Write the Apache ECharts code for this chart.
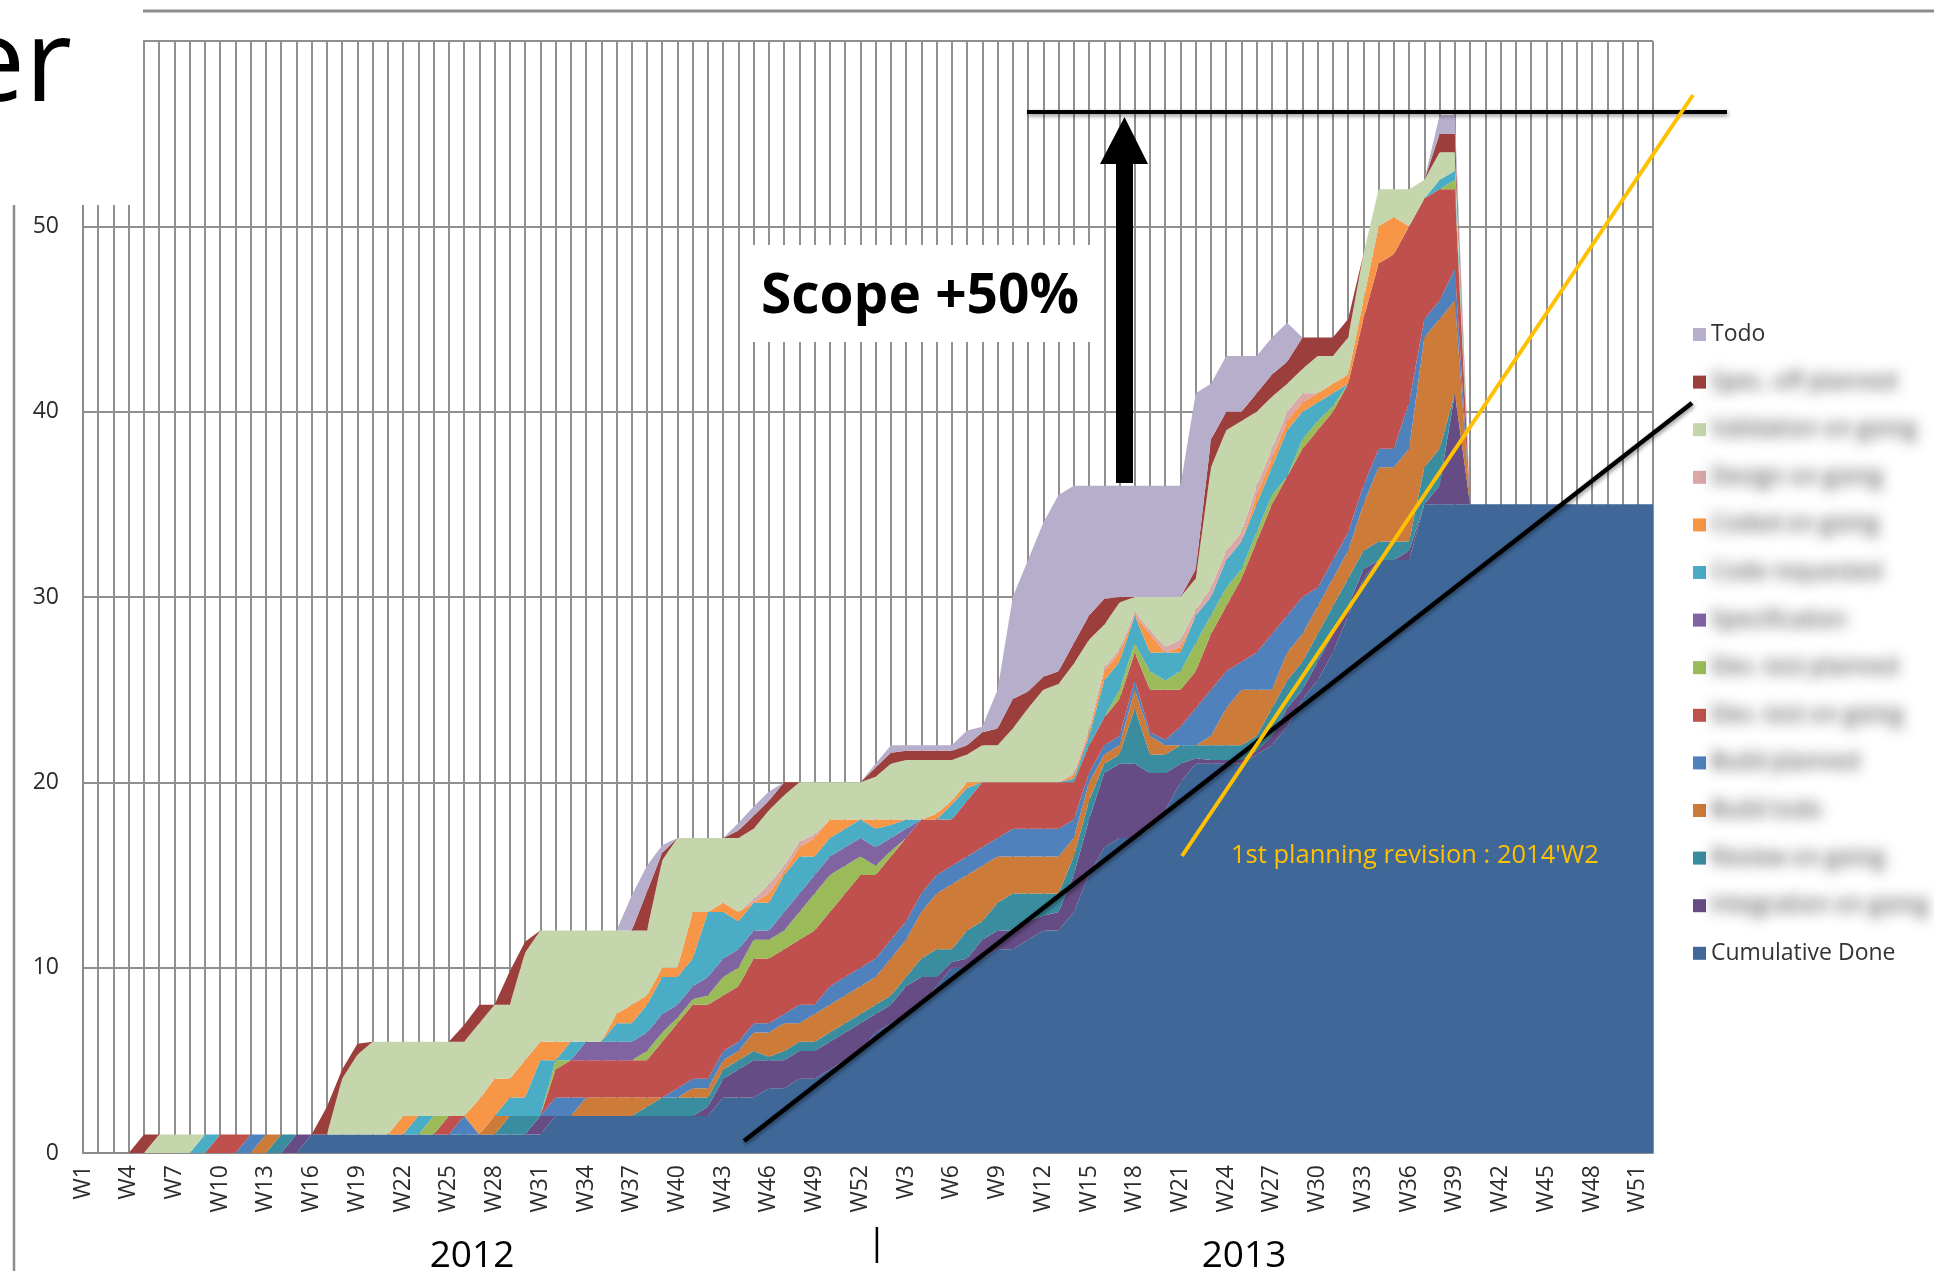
<!DOCTYPE html>
<html>
<head>
<meta charset="utf-8">
<title>Cumulative flow</title>
<script src="https://cdn.jsdelivr.net/npm/echarts@6.0.0/dist/echarts.min.js"></script>
<style>
  html, body { margin: 0; padding: 0; background: #ffffff; }
  #chart { width: 1934px; height: 1271px; }
</style>
</head>
<body>
<div id="chart"></div>
<script>
// x categories: 2012 W1..W52 then 2013 W1..W52 (year kept in the key, stripped in the label)
var years = ['2012', '2013'];
var weeks = [];
years.forEach(function (y) {
    for (var w = 1; w <= 52; w++) weeks.push(y + ' W' + w);
});

var yTicks = [0, 10, 20, 30, 40, 50];

// stacked layers, bottom -> top (one per week)
var done = [0,0,0,0,0,0,0,0,0,0, 0,0,0,0,0,1,1,1,1,1, 1,1,1,1,1,1,1,1,1,1,
    1,2,2,2,2,2,2,2,2,2, 2,2,3,3,3,3.5,3.5,4,4,4.5, 5,5.5,6.5,7,7.5,8,9,10,10,10.5,
    11,11,11.5,12,12,13,15,16.5,17,17, 17.5,18.5,20,21,21,21,21,21.5,22,23,
    24.5,25.5,27,29,31,32,32,32,35,35, 35,35,35,35,35,35,35,35,35,35, 35,35,35,35];
var integration = [0,0,0,0,0,0,0,0,0,0, 0,0,0,0,1,0,0,0,0,0, 0,0,0,0,0,0,0,0,0,0,
    1,0,0,0,0,0,0,0,0,0, 0,0.5,1,1.5,2,1.5,1.5,1.5,1.5,1.5, 1.5,1.5,1,1,1.5,1.5,0.5,0.3,0.5,1,
    1,1,1,0.8,1,2,3,4,4,4, 3,2,1,0.3,0.2,0.2,0.2,0.2,0.5,1,
    0.5,1,1,0.5,0.5,0,0,0.5,0,1, 6,0,0,0,0,0,0,0,0,0, 0,0,0,0];
var review = [0,0,0,0,0,0,0,0,0,0, 0,0,0,1,0,0,0,0,0,0, 0,0,0,0,0,0,0,0,1,1,
    0,0,0,0,0,0,0,0.5,1,1, 1,0.5,0.5,0.5,0.5,0.2,0.5,0.5,0.5,0.5, 0.5,0.5,0.5,0.5,0.5,1,1.5,0.7,1.5,1,
    1.5,2,1.5,1.2,1,1,1,0.5,0.5,3, 1,1,1,0.7,0.8,0.8,0.8,0.8,1.5,1.5,
    1.5,1.5,1.5,1.5,1,1,1,0.5,2,2, 0,0,0,0,0,0,0,0,0,0, 0,0,0,0];
var buildTodo = [0,0,0,0,0,0,0,0,0,0, 0,0,1,0,0,0,0,0,0,0, 0,0,0,0,0,0,0,1,0,0,
    0,0,0,1,1,1,1,0.5,0,0, 0.5,0.5,0.5,0.5,1,1.3,1.5,1,1.5,1.5, 1.5,1.5,1.5,2,2,2.5,3,3.5,3,3,
    2.5,2,2,2,2,1,1,0.5,0.5,1, 1,0.5,0,0,0.5,2,3,2.5,1,1.5,
    1.5,1.5,1.5,1.5,2.5,4,4,5,7,7, 5,0,0,0,0,0,0,0,0,0, 0,0,0,0];
var buildPlanned = [0,0,0,0,0,0,0,0,0,0, 0,1,0,0,0,0,0,0,0,0, 0,0,0,0,0,1,0,0,0,0,
    0,1,1,0,0,0,0,0,0,0.5, 0.5,0.5,0.5,0.5,0.5,0.5,0.5,1,0.5,1, 1,1,1,1,1,1,1,1,1,1,
    1,1.5,1.5,1.5,1.5,1,0.5,0.5,0.5,0.5, 0.2,0.3,1,2,2.5,2,1.5,2,3,2,
    2,1,1,1,1,1,1,2.5,1,1, 1.7,0,0,0,0,0,0,0,0,0, 0,0,0,0];
var devTest = [0,0,0,0,0,0,0,0,0,1, 1,0,0,0,0,0,0,0,0,0, 0,0,0,0,1,0,0,0,0,0,
    0,1.5,2,2,2,2,2,2,3,3.5, 4,4,3,3,3.5,3.5,3.5,3.5,4,4, 4.5,5,4.5,4.5,4.5,4,3,2.5,3,3.5,
    3,2.5,2.5,2.5,2.5,2,1.5,1.5,2,1.5, 2.3,2.7,2,2,3,3.5,4.5,6,7,7.5,
    8,8.5,8,8,9,10,10.5,9.5,6.5,6, 4.3,0,0,0,0,0,0,0,0,0, 0,0,0,0];
var devTestPlanned = [0,0,0,0,0,0,0,0,0,0, 0,0,0,0,0,0,0,0,0,0, 0,0,0,1,0,0,0,0,0,0,
    0,0.5,0,0,0,0,0,0.5,0.5,0.3, 0.3,0.5,1,1,1,1,1,1.5,2,2, 1.5,1,0.5,0.3,0,0,0,0,0,0,
    0,0,0,0,0,0,0,0,0.5,0.5, 1,0.5,1,1.5,1,1,0.5,0.5,0.5,0,
    0.5,0.5,0.3,0,0,0,0,0,0,0, 0.5,0,0,0,0,0,0,0,0,0, 0,0,0,0];
var specification = [0,0,0,0,0,0,0,0,0,0, 0,0,0,0,0,0,0,0,0,0, 0,0,0,0,0,0,0,0,0,0,
    0,0,0,1,1,1,1,1,1,0.7, 0.7,1,1,1,0.5,0.5,1,1,1,1, 1,1,1,0.7,0.5,0,0,0,0,0,
    0,0,0,0,0,0,0,0,0,0, 0,0,0,0,0,0,0,0,0,0,
    0,0,0,0,0,0,0,0,0,0, 0,0,0,0,0,0,0,0,0,0, 0,0,0,0];
var codeRequested = [0,0,0,0,0,0,0,0,1,0, 0,0,0,0,0,0,0,0,0,0, 0,0,1,0,0,0,0,0,1,1,
    3,0,1,0,0,1,1,1.5,2,1.5, 1.5,3.5,2.5,1.5,1.5,1.5,2,2,1,1, 1,1,1,0.7,0.5,0,0,0.8,0.7,0,
    0,0,0,0,0,0.2,0.5,2,1.5,1.5, 1,1.5,1,1.5,1,1.5,1.5,1.5,1.5,2.5,
    1.5,1,0.7,0,0,0,0,0,0,0.5, 0.5,0,0,0,0,0,0,0,0,0, 0,0,0,0];
var coded = [0,0,0,0,0,0,0,0,0,0, 0,0,0,0,0,0,0,0,0,0, 0,1,0,0,0,0,1.9,2,1,2,
    1,1,0,0,0,0.5,1,0.5,0.5,0.5, 2.5,0,0.5,0.5,0,0.5,0.2,0.5,1,1, 0.5,0,0.5,0.3,0,0,0.3,0.2,0.3,0,
    0,0,0,0,0,0.2,0.2,0.5,0.5,0, 1,0,0.3,0,0,0,0,0.5,0.5,0.5,
    0.5,0.5,0.5,0.5,1,2,2,0,0,0, 0,0,0,0,0,0,0,0,0,0, 0,0,0,0];
var design = [0,0,0,0,0,0,0,0,0,0, 0,0,0,0,0,0,0,0,0,0, 0,0,0,0,0,0,0,0,0,0,
    0,0,0,0,0,0,0,0,0,0, 0,0,0,0,0.2,0.5,0.3,0.3,0.2,0, 0,0,0,0,0,0,0,0,0,0,
    0,0,0,0,0,0.1,0.2,0.2,0.2,0.2, 0.2,0.3,0.4,0.3,0.5,0.5,0.5,0.5,0.5,0.5,
    0.5,0,0,0,0,0,0,0,0,0, 0,0,0,0,0,0,0,0,0,0, 0,0,0,0];
var validation = [0,0,0,0,0,1,1,1,0,0, 0,0,0,0,0,0,0,3,4.3,5, 5,4,4,4,4,4,4.1,4,4,5.8,
    6,6,6,6,6,4.5,4,3.5,5.8,7, 4,4,3.5,4,3.8,4,3.8,3.2,2.8,2, 2,2,2.3,3,3.2,3.2,2.9,2.2,1.5,2,
    2,2.9,4,5,5.3,5.9,4.8,2.3,2.5,0.8, 1.8,2.7,2.3,1.7,6.5,6.5,6,4,2.8,1.5,
    1.3,2,1.5,2,2.5,2,1.5,2,1,1.5, 1,0,0,0,0,0,0,0,0,0, 0,0,0,0];
var specOff = [0,0,0,0,1,0,0,0,0,0, 0,0,0,0,0,0,1.5,0.5,0.6,0, 0,0,0,0,0,0.9,1,0,1.8,0.6,
    0,0,0,0,0,0,0,2.1,0.4,0, 0,0,0,0.4,0.7,0.5,0.7,0,0,0, 0,0,0.5,0.6,0.5,0.5,0.5,0.5,0.5,0.7,
    0.9,1.6,0.9,0.7,0.7,1.1,1.3,1.4,0.3,0, 0,0,0,0.5,1.5,1,0.5,1,1.2,1.2,
    1.7,1,1,1,0,0,0,0,0,1, 1,0,0,0,0,0,0,0,0,0, 0,0,0,0];
var todo = [0,0,0,0,0,0,0,0,0,0, 0,0,0,0,0,0,0,0,0,0, 0,0,0,0,0,0,0,0,0,0,
    0,0,0,0,0,0,1.9,1.4,0.4,0, 0,0,0,0.4,0.5,0.5,0,0,0,0, 0,0,0.2,0.4,0.3,0.3,0.3,0.3,0.8,0.3,
    2.1,5.5,7.1,8.3,9.5,8.5,7,6.1,6,6, 6,6,6,9.5,3,3,3,2,2,2.1,
    0,0,0,0,0,0,0,0,0,1, 1,0,0,0,0,0,0,0,0,0, 0,0,0,0];

var layers = [
    { name: 'Cumulative Done', data: done, color: '#3F6899' },
    { name: 'Integration on going', data: integration, color: '#664C85' },
    { name: 'Review on going', data: review, color: '#3A8C9F' },
    { name: 'Build todo', data: buildTodo, color: '#CD7B38' },
    { name: 'Build planned', data: buildPlanned, color: '#4F81BD' },
    { name: 'Dev. test on going', data: devTest, color: '#C0504D' },
    { name: 'Dev. test planned', data: devTestPlanned, color: '#9BBB59' },
    { name: 'Specification', data: specification, color: '#8064A2' },
    { name: 'Code requested', data: codeRequested, color: '#4BACC6' },
    { name: 'Coded on going', data: coded, color: '#F79646' },
    { name: 'Design on going', data: design, color: '#DBA7A7' },
    { name: 'Validation on going', data: validation, color: '#C5D6AC' },
    { name: 'Spec. off planned', data: specOff, color: '#9C3F3C' },
    { name: 'Todo', data: todo, color: '#B7AECB' }
];

// legend labels that are unreadable (blurred) in the original
var blurred = layers.slice(1, 13).map(function (l) { return l.name; });

var FONT = '"Open Sans", "DejaVu Sans", sans-serif';

function buildSeries() {
    return layers.map(function (l) {
        return {
            name: l.name,
            type: 'line',
            stack: 'flow',
            data: l.data,
            symbol: 'none',
            showSymbol: false,
            lineStyle: { width: 0 },
            itemStyle: { color: l.color },
            areaStyle: { color: l.color, opacity: 1 },
            emphasis: { disabled: true }
        };
    });
}

// slide decorations and annotations drawn on top of the chart
function buildGraphic() {
    var shadow = { shadowBlur: 4, shadowColor: 'rgba(0,0,0,0.45)', shadowOffsetX: 1, shadowOffsetY: 2 };
    return [
        // pasted-screenshot edge: white block over the upper left
        { type: 'rect', z: 100, shape: { x: 0, y: 0, width: 143, height: 205 }, style: { fill: '#ffffff' } },
        { type: 'text', z: 101, x: 72, y: 68, style: { text: 'er', font: '115px ' + FONT, fill: '#000', textAlign: 'right', textVerticalAlign: 'middle' } },
        { type: 'line', z: 101, shape: { x1: 143, y1: 11, x2: 1934, y2: 11 }, style: { stroke: '#8c8c8c', lineWidth: 3 } },
        { type: 'line', z: 101, shape: { x1: 14, y1: 205, x2: 14, y2: 1271 }, style: { stroke: '#8c8c8c', lineWidth: 2.5 } },
        // scope annotation
        { type: 'rect', z: 100, shape: { x: 744, y: 245, width: 347, height: 97 }, style: { fill: '#ffffff' } },
        { type: 'text', z: 101, x: 920, y: 297, style: { text: 'Scope +50%', font: 'bold 55px ' + FONT, fill: '#000', textAlign: 'center', textVerticalAlign: 'middle' } },
        { type: 'rect', z: 101, shape: { x: 1116, y: 160, width: 17, height: 323 }, style: { fill: '#000' } },
        { type: 'polygon', z: 101, shape: { points: [[1100, 164], [1124.5, 117], [1148, 164]] }, style: { fill: '#000' } },
        { type: 'line', z: 101, shape: { x1: 1027, y1: 112, x2: 1727, y2: 112 }, style: Object.assign({ stroke: '#000', lineWidth: 4 }, shadow) },
        // trend lines
        { type: 'line', z: 101, shape: { x1: 744, y1: 1141, x2: 1692, y2: 403 }, style: Object.assign({ stroke: '#000', lineWidth: 4.5 }, shadow) },
        { type: 'line', z: 101, shape: { x1: 1182, y1: 856, x2: 1693, y2: 95 }, style: { stroke: '#FFC000', lineWidth: 4 } },
        { type: 'text', z: 101, x: 1231, y: 856, style: { text: "1st planning revision : 2014'W2", font: '25.5px ' + FONT, fill: '#FFC000', textAlign: 'left', textVerticalAlign: 'middle' } },
        // year captions under the week labels
        { type: 'text', z: 101, x: 472, y: 1256, style: { text: years[0], font: '37px ' + FONT, fill: '#000', textAlign: 'center', textVerticalAlign: 'middle' } },
        { type: 'text', z: 101, x: 1244, y: 1256, style: { text: years[1], font: '37px ' + FONT, fill: '#000', textAlign: 'center', textVerticalAlign: 'middle' } },
        { type: 'text', z: 101, x: 877, y: 1243, style: { text: '|', font: '37px ' + FONT, fill: '#000', textAlign: 'center', textVerticalAlign: 'middle' } }
    ];
}

var chart = echarts.init(document.getElementById('chart'), null, { renderer: 'canvas' });

var option = {
    animation: false,
    backgroundColor: '#ffffff',
    grid: { left: 83, right: 281, top: 41, bottom: 118, containLabel: false, outerBoundsMode: 'none' },
    legend: {
        orient: 'vertical',
        left: 1693,
        top: 323,
        padding: 0,
        icon: 'rect',
        itemWidth: 13,
        itemHeight: 13,
        itemGap: 24.6,
        selectedMode: false,
        data: layers.map(function (l) { return l.name; }).reverse(),
        formatter: function (name) {
            return blurred.indexOf(name) >= 0 ? '{blur|' + name + '}' : name;
        },
        textStyle: {
            fontFamily: FONT,
            fontSize: 23,
            lineHeight: 22,
            color: '#333333',
            rich: {
                // text is pushed off canvas, only its blurred shadow lands next to the swatch
                blur: {
                    fontFamily: FONT,
                    fontSize: 23,
                    lineHeight: 22,
                    color: '#222222',
                    padding: [0, 0, 0, 4000],
                    textShadowColor: 'rgba(40,40,40,1)',
                    textShadowBlur: 14,
                    textShadowOffsetX: -4000
                }
            }
        }
    },
    xAxis: {
        type: 'category',
        data: weeks,
        boundaryGap: false,
        axisTick: { show: false },
        axisLine: { lineStyle: { color: '#8c8c8c', width: 2 } },
        axisLabel: {
            interval: 2,
            rotate: 90,
            margin: 12,
            fontFamily: FONT,
            fontSize: 23,
            color: '#2b2b2b',
            formatter: function (v) { return v.split(' ')[1]; }
        },
        splitLine: { show: true, interval: 0, lineStyle: { color: '#8f8f8f', width: 2 } }
    },
    yAxis: {
        type: 'value',
        min: 0,
        max: 60,
        interval: 10,
        axisTick: { show: false },
        axisLine: { show: true, lineStyle: { color: '#8c8c8c', width: 2 } },
        axisLabel: {
            margin: 24,
            fontFamily: FONT,
            fontSize: 23,
            color: '#2b2b2b',
            formatter: function (v) { return yTicks.indexOf(v) >= 0 ? String(v) : ''; }
        },
        splitLine: { lineStyle: { color: '#8f8f8f', width: 2 } }
    },
    series: buildSeries(),
    graphic: buildGraphic()
};

chart.setOption(option);
</script>
</body>
</html>
